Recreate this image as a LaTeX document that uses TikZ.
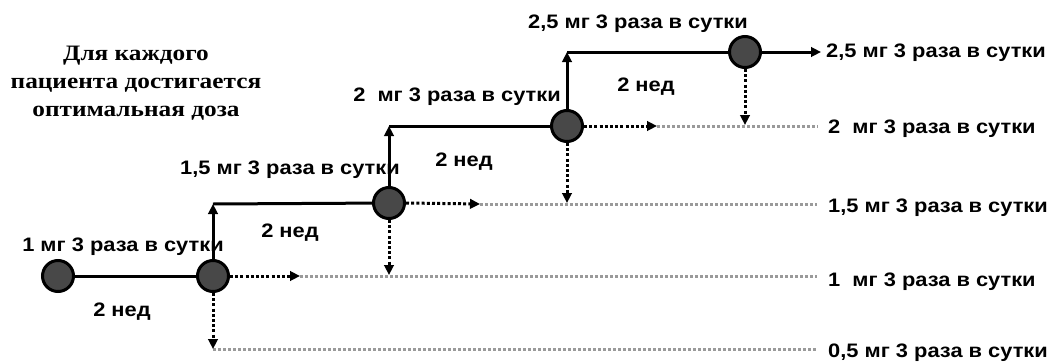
\documentclass[tikz,border=0pt]{standalone}
\usepackage{fontspec}
\setmainfont{Liberation Sans}[FakeStretch=1.12]
\newfontfamily\titlefont{Liberation Serif}[FakeStretch=1.15]
\usetikzlibrary{arrows.meta,backgrounds}
\definecolor{dosefill}{HTML}{484848}
\definecolor{dotgray}{HTML}{9A9A9A}
\tikzset{
  dose/.style={circle, draw=black, line width=3pt, fill=dosefill, minimum size=31pt, inner sep=0pt},
  stepline/.style={line width=3pt, draw=black},
  tipend/.style={-{Triangle[length=10pt,width=9.5pt]}},
  dotarrow/.style={line width=3pt, draw=black, dash pattern=on 3pt off 2.2pt, tipend},
  grayline/.style={line width=3pt, draw=dotgray, dash pattern=on 3pt off 2pt},
  lab/.style={font=\bfseries\fontsize{19.5}{22}\selectfont, inner sep=0pt},
  rlab/.style={lab, anchor=west},
}
\begin{document}
\begin{tikzpicture}[x=1pt,y=-1pt]
\useasboundingbox (0,0) rectangle (1050,362);

% title
\node[font=\titlefont\bfseries\fontsize{22}{28}\selectfont, align=center, inner sep=0pt]
  (title) at (136,83) {Для каждого\\пациента достигается\\оптимальная доза};

% dose points
\node[dose] (c0) at (58,276) {};
\node[dose] (c1) at (213,276) {};
\node[dose] (c2) at (389,203) {};
\node[dose] (c3) at (567,126) {};
\node[dose] (c4) at (745,52) {};

% step corners and ends
\coordinate (k1) at (213,204);
\coordinate (k2) at (389,126);
\coordinate (k3) at (567,52);
\coordinate (e4) at (821,52);

% maintenance lines (grey)
\coordinate (g1a) at (300,276);  \coordinate (g1b) at (817,276);
\coordinate (g0a) at (213,349);  \coordinate (g0b) at (817,349);
\coordinate (g2a) at (480,204);  \coordinate (g2b) at (817,204);
\coordinate (g3a) at (657,126);  \coordinate (g3b) at (818,126);

% ends of the downward branches
\coordinate (d1) at (213,349);
\coordinate (d2) at (389,275);
\coordinate (d3) at (567,203);
\coordinate (d4) at (745,125);

\begin{scope}[on background layer]
% titration steps
\draw[stepline] (c0) -- (c1);
\draw[stepline, tipend] (c1.center) -- (k1);
\draw[stepline] (k1) -- (c2);
\draw[stepline, tipend] (c2.center) -- (k2);
\draw[stepline] (k2) -- (c3);
\draw[stepline, tipend] (c3.center) -- (k3);
\draw[stepline] (k3) -- (c4);
\draw[stepline, tipend] (c4.east) -- (e4);

\draw[grayline] (g0a) -- (g0b);
\draw[grayline] (g1a) -- (g1b);
\draw[grayline] (g2a) -- (g2b);
\draw[grayline] (g3a) -- (g3b);

% stay / reduce branches
\draw[dotarrow] (c1.east) -- (g1a);
\draw[dotarrow] (c1.south) -- (d1);
\draw[dotarrow] (c2.east) -- (g2a);
\draw[dotarrow] (c2.south) -- (d2);
\draw[dotarrow] (c3.east) -- (g3a);
\draw[dotarrow] (c3.south) -- (d3);
\draw[dotarrow] (c4.south) -- (d4);
\end{scope}

% step labels
\node[lab] (l1) at (123,247) {1 мг 3 раза в сутки};
\node[lab] (w1) at (122,312) {2 нед};
\node[lab] (l2) at (290,170) {1,5 мг 3 раза в сутки};
\node[lab] (w2) at (290,233) {2 нед};
\node[lab] (l3) at (457,97) {2~ мг 3 раза в сутки};
\node[lab] (w3) at (464,162) {2 нед};
\node[lab] (l4) at (638,24) {2,5 мг 3 раза в сутки};
\node[lab] (w4) at (646,87) {2 нед};

% resulting doses
\node[rlab] (r4) at (826,53) {2,5 мг 3 раза в сутки};
\node[rlab] (r3) at (828,129) {2~ мг 3 раза в сутки};
\node[rlab] (r2) at (828,208) {1,5 мг 3 раза в сутки};
\node[rlab] (r1) at (828,282) {1~ мг 3 раза в сутки};
\node[rlab] (r0) at (828,353) {0,5 мг 3 раза в сутки};
\end{tikzpicture}
\end{document}
